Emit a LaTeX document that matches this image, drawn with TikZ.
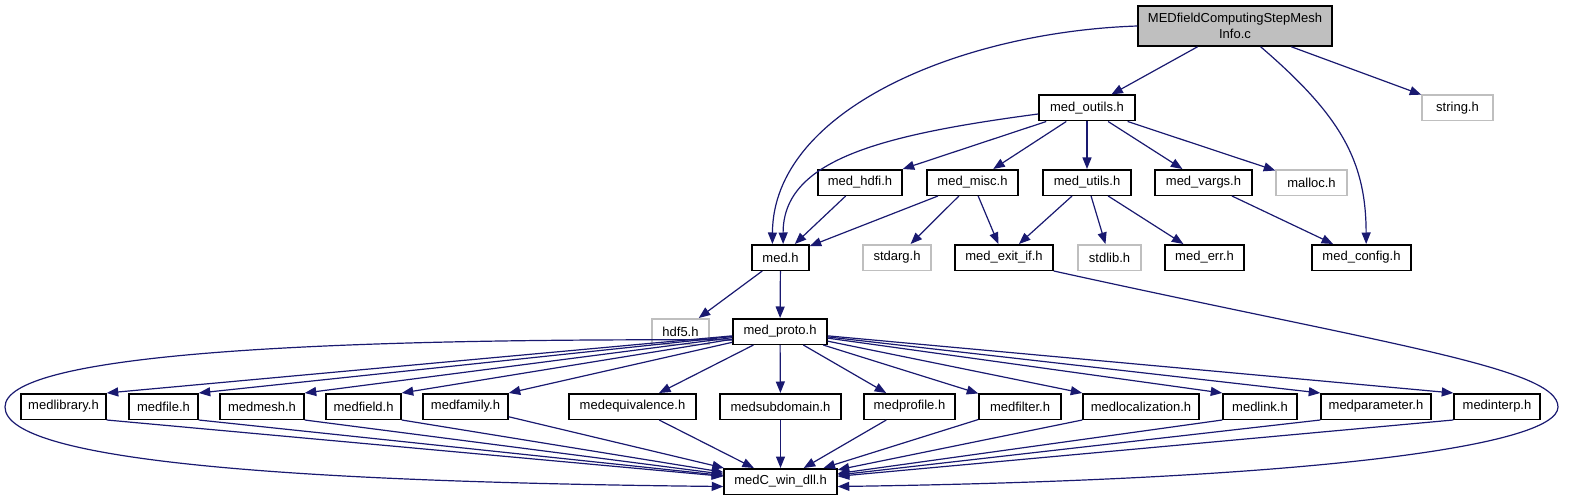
\documentclass[tikz,border=0pt]{standalone}
\usepackage{fontspec}
\setmainfont{Liberation Sans}
\usepackage{tikz}
\usetikzlibrary{
  arrows.meta
}
\definecolor{dxblue} {HTML}{191970}
\definecolor{dxgray} {HTML}{BFBFBF}

\begin{document}
\begin{tikzpicture}[
  x=1pt, y=-1pt,
  every node/.style={font=\fontsize{13}{15.5}\selectfont},
  hdr/.style={rectangle, draw=black, line width=1.5pt, fill=white,
              inner sep=0pt, minimum height=25.5pt},
  sys/.style={hdr, draw=dxgray},
  root/.style={hdr, fill=dxgray, minimum height=40pt, align=center},
  arr/.style={-{Triangle[length=11.5pt, width=9pt]}, dxblue, line width=1.2pt},
]
\useasboundingbox (0,0) rectangle (1585,500);

% -- Top: source file and its direct includes ----
\node[root, minimum width=194pt] (main)   at (1235, 26)    {MEDfieldComputingStepMesh\\Info.c};
\node[hdr,  minimum width=96pt]  (outils) at (1087, 108)   {med\_outils.h};
\node[sys,  minimum width=71pt]  (string) at (1457.5, 108) {string.h};

% -- Row 2: included by med_outils.h -------------
\node[hdr, minimum width=84pt] (hdfi)   at (860, 182.5)    {med\_hdfi.h};
\node[hdr, minimum width=91pt] (misc)   at (972.5, 182.5)  {med\_misc.h};
\node[hdr, minimum width=88pt] (utils)  at (1087, 182.5)   {med\_utils.h};
\node[hdr, minimum width=97pt] (vargs)  at (1203.5, 182.5) {med\_vargs.h};
\node[sys, minimum width=71pt] (malloc) at (1311.5, 182.5) {malloc.h};

% -- Row 3 ---------------------------------------
\node[hdr, minimum width=57pt] (med)    at (780.5, 257.5)  {med.h};
\node[sys, minimum width=68pt] (stdarg) at (897, 257.5)    {stdarg.h};
\node[hdr, minimum width=98pt] (exitif) at (1004, 257.5)   {med\_exit\_if.h};
\node[sys, minimum width=63pt] (stdlib) at (1109.5, 257.5) {stdlib.h};
\node[hdr, minimum width=79pt] (err)    at (1204.5, 257.5) {med\_err.h};
\node[hdr, minimum width=99pt] (config) at (1361.5, 257.5) {med\_config.h};

% -- Row 4 ---------------------------------------
\node[sys, minimum width=57pt] (hdf5)  at (680.5, 331.5) {hdf5.h};
\node[hdr, minimum width=94pt] (proto) at (780, 331.5)   {med\_proto.h};

% -- Row 5: API headers --------------------------
\node[hdr, minimum width=85pt]  (library)      at (63.5, 406.5)  {medlibrary.h};
\node[hdr, minimum width=69pt]  (file)         at (163.5, 406.5) {medfile.h};
\node[hdr, minimum width=84pt]  (mesh)         at (262, 406.5)   {medmesh.h};
\node[hdr, minimum width=75pt]  (field)        at (363.5, 406.5) {medfield.h};
\node[hdr, minimum width=85pt]  (family)       at (465.5, 406.5) {medfamily.h};
\node[hdr, minimum width=127pt] (equivalence)  at (632.5, 406.5) {medequivalence.h};
\node[hdr, minimum width=121pt] (subdomain)    at (780.5, 406.5) {medsubdomain.h};
\node[hdr, minimum width=91pt]  (profile)      at (909.5, 406.5) {medprofile.h};
\node[hdr, minimum width=82pt]  (filter)       at (1020, 406.5)  {medfilter.h};
\node[hdr, minimum width=116pt] (localization) at (1141, 406.5)  {medlocalization.h};
\node[hdr, minimum width=74pt]  (link)         at (1260, 406.5)  {medlink.h};
\node[hdr, minimum width=110pt] (parameter)    at (1376, 406.5)  {medparameter.h};
\node[hdr, minimum width=86pt]  (interp)       at (1497, 406.5)  {medinterp.h};

% -- Bottom --------------------------------------
\node[hdr, minimum width=113pt] (dll) at (780.5, 481.5) {medC\_win\_dll.h};

% -- Arrows: source file -------------------------
\draw[arr] (main) -- (outils);
\draw[arr] (main) -- (string);
\draw[arr] (main.west) .. controls (960,32) and (773,110) .. (med.121);
\draw[arr] (main.-39) .. controls (1340,115) and (1366,160) .. (config.71);

% -- med_outils.h --------------------------------
\draw[arr] (outils.187) .. controls (880,135) and (783,160) .. (med.79);
\draw[arr] (outils) -- (hdfi.north east);
\foreach \n in {misc,utils,vargs,malloc}
  \draw[arr] (outils) -- (\n);

% -- Row 2 to row 3 ------------------------------
\draw[arr] (hdfi)  -- (med);
\draw[arr] (misc)  -- (med);
\draw[arr] (misc)  -- (stdarg);
\draw[arr] (misc)  -- (exitif);
\draw[arr] (utils) -- (exitif);
\draw[arr] (utils) -- (stdlib);
\draw[arr] (utils) -- (err);
\draw[arr] (vargs) -- (config);

% -- med.h ---------------------------------------
\draw[arr] (med) -- (hdf5);
\draw[arr] (med) -- (proto);

% -- med_proto.h fan out -------------------------
\foreach \n in {library,file,mesh,field,family}
  \draw[arr] (proto) -- (\n.north east);
\foreach \n in {equivalence,subdomain,profile,filter}
  \draw[arr] (proto) -- (\n);
\foreach \n in {localization,link,parameter,interp}
  \draw[arr] (proto) -- (\n.north west);

% -- API headers to medC_win_dll.h ---------------
\foreach \n in {library,file,mesh,field}
  \draw[arr] (\n.south east) -- (dll);
\foreach \n in {family,equivalence,subdomain,profile,filter}
  \draw[arr] (\n) -- (dll);
\foreach \n in {localization,link,parameter,interp}
  \draw[arr] (\n.south west) -- (dll);

% -- Loops round the sides -----------------------
\draw[arr] (proto.190) .. controls (300,338) and (5,355) .. (5,407)
  .. controls (5,462) and (300,482) .. (dll.185);
\draw[arr] (exitif.south east) .. controls (1390,345) and (1558,368) .. (1558,407)
  .. controls (1558,447) and (1300,480) .. (dll.355);

\end{tikzpicture}
\end{document}
